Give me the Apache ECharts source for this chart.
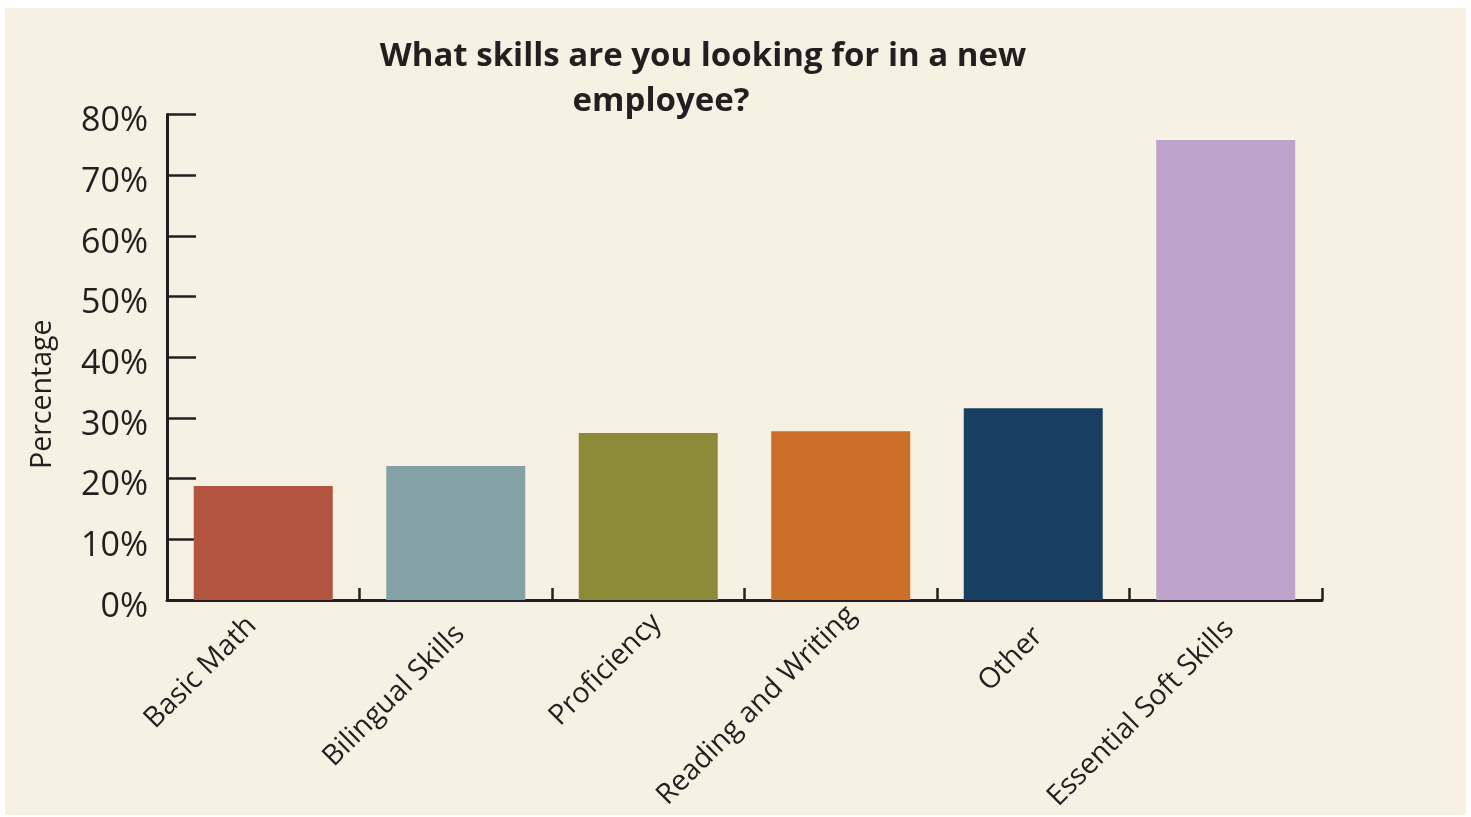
<!DOCTYPE html>
<html>
<head>
<meta charset="utf-8">
<title>What skills are you looking for in a new employee?</title>
<script src="https://cdn.jsdelivr.net/npm/echarts@6/dist/echarts.min.js"></script>
<style>
  html, body { margin: 0; padding: 0; background: #ffffff; }
  #chart { position: absolute; left: 5px; top: 8px; width: 1461px; height: 807px; }
</style>
</head>
<body>
<div id="chart"></div>
<script>
// Survey answers: share of employers naming each skill
const categories = ['Basic Math', 'Bilingual Skills', 'Proficiency', 'Reading and Writing', 'Other', 'Essential Soft Skills'];
const percentages = [18.8, 22.1, 27.5, 27.8, 31.6, 75.8];
const barColors = ['#b35441', '#84a1a6', '#8a8a37', '#cb6f28', '#183f61', '#bea3cc'];
const yTicks = [0, 10, 20, 30, 40, 50, 60, 70, 80];

// Hand-placed nudges for the slanted category labels: [top, right, bottom, left] padding
const labelPadding = [
  [0, 23, 0, 0],
  [17, 18, 0, 0],
  [12, 7, 0, 0],
  [8, 0, 0, 0],
  [19, 19, 0, 0],
  [13, 15, 0, 0]
];

const ink = '#231f20';
const font = '"Open Sans", "Noto Sans", sans-serif';

const chart = echarts.init(document.getElementById('chart'));

chart.setOption({
  backgroundColor: '#f7f1e4',
  animation: false,
  title: [
    {
      text: 'What skills are you looking for in a new',
      left: 698, top: 32, padding: 0, textAlign: 'center',
      textStyle: { fontFamily: font, fontWeight: 'bold', fontSize: 33, color: ink }
    },
    {
      text: 'employee?',
      left: 656, top: 77, padding: 0, textAlign: 'center',
      textStyle: { fontFamily: font, fontWeight: 'bold', fontSize: 33, color: ink }
    }
  ],
  grid: { left: 162, right: 144, top: 106.5, bottom: 215, containLabel: false },
  xAxis: {
    type: 'category',
    data: categories.map((c, i) => ({
      value: c,
      textStyle: { padding: labelPadding[i], verticalAlign: 'top', lineHeight: 14 }
    })),
    boundaryGap: true,
    axisLine: { lineStyle: { color: ink, width: 3 } },
    axisTick: { show: true, inside: true, length: 12, lineStyle: { color: ink, width: 2.5 } },
    axisLabel: {
      rotate: 45, margin: 0, interval: 0,
      fontFamily: font, fontSize: 28.5, color: ink
    }
  },
  yAxis: {
    type: 'value',
    min: yTicks[0], max: yTicks[yTicks.length - 1], interval: 10,
    name: 'Percentage',
    nameLocation: 'middle',
    nameGap: 110,
    nameTextStyle: { fontFamily: font, fontSize: 28.5, color: ink, padding: [0, 74, 0, 0] },
    splitLine: { show: false },
    axisLine: { show: true, lineStyle: { color: ink, width: 3 } },
    axisTick: { show: true, inside: true, length: 29, lineStyle: { color: ink, width: 2.5 } },
    axisLabel: {
      margin: 19, fontFamily: font, fontSize: 34, color: ink,
      verticalAlign: 'top', lineHeight: 14,
      formatter: '{value}%'
    }
  },
  series: [{
    type: 'bar',
    barCategoryGap: '27.8%',
    data: percentages.map((v, i) => ({ value: v, itemStyle: { color: barColors[i] } }))
  }]
});
</script>
</body>
</html>
